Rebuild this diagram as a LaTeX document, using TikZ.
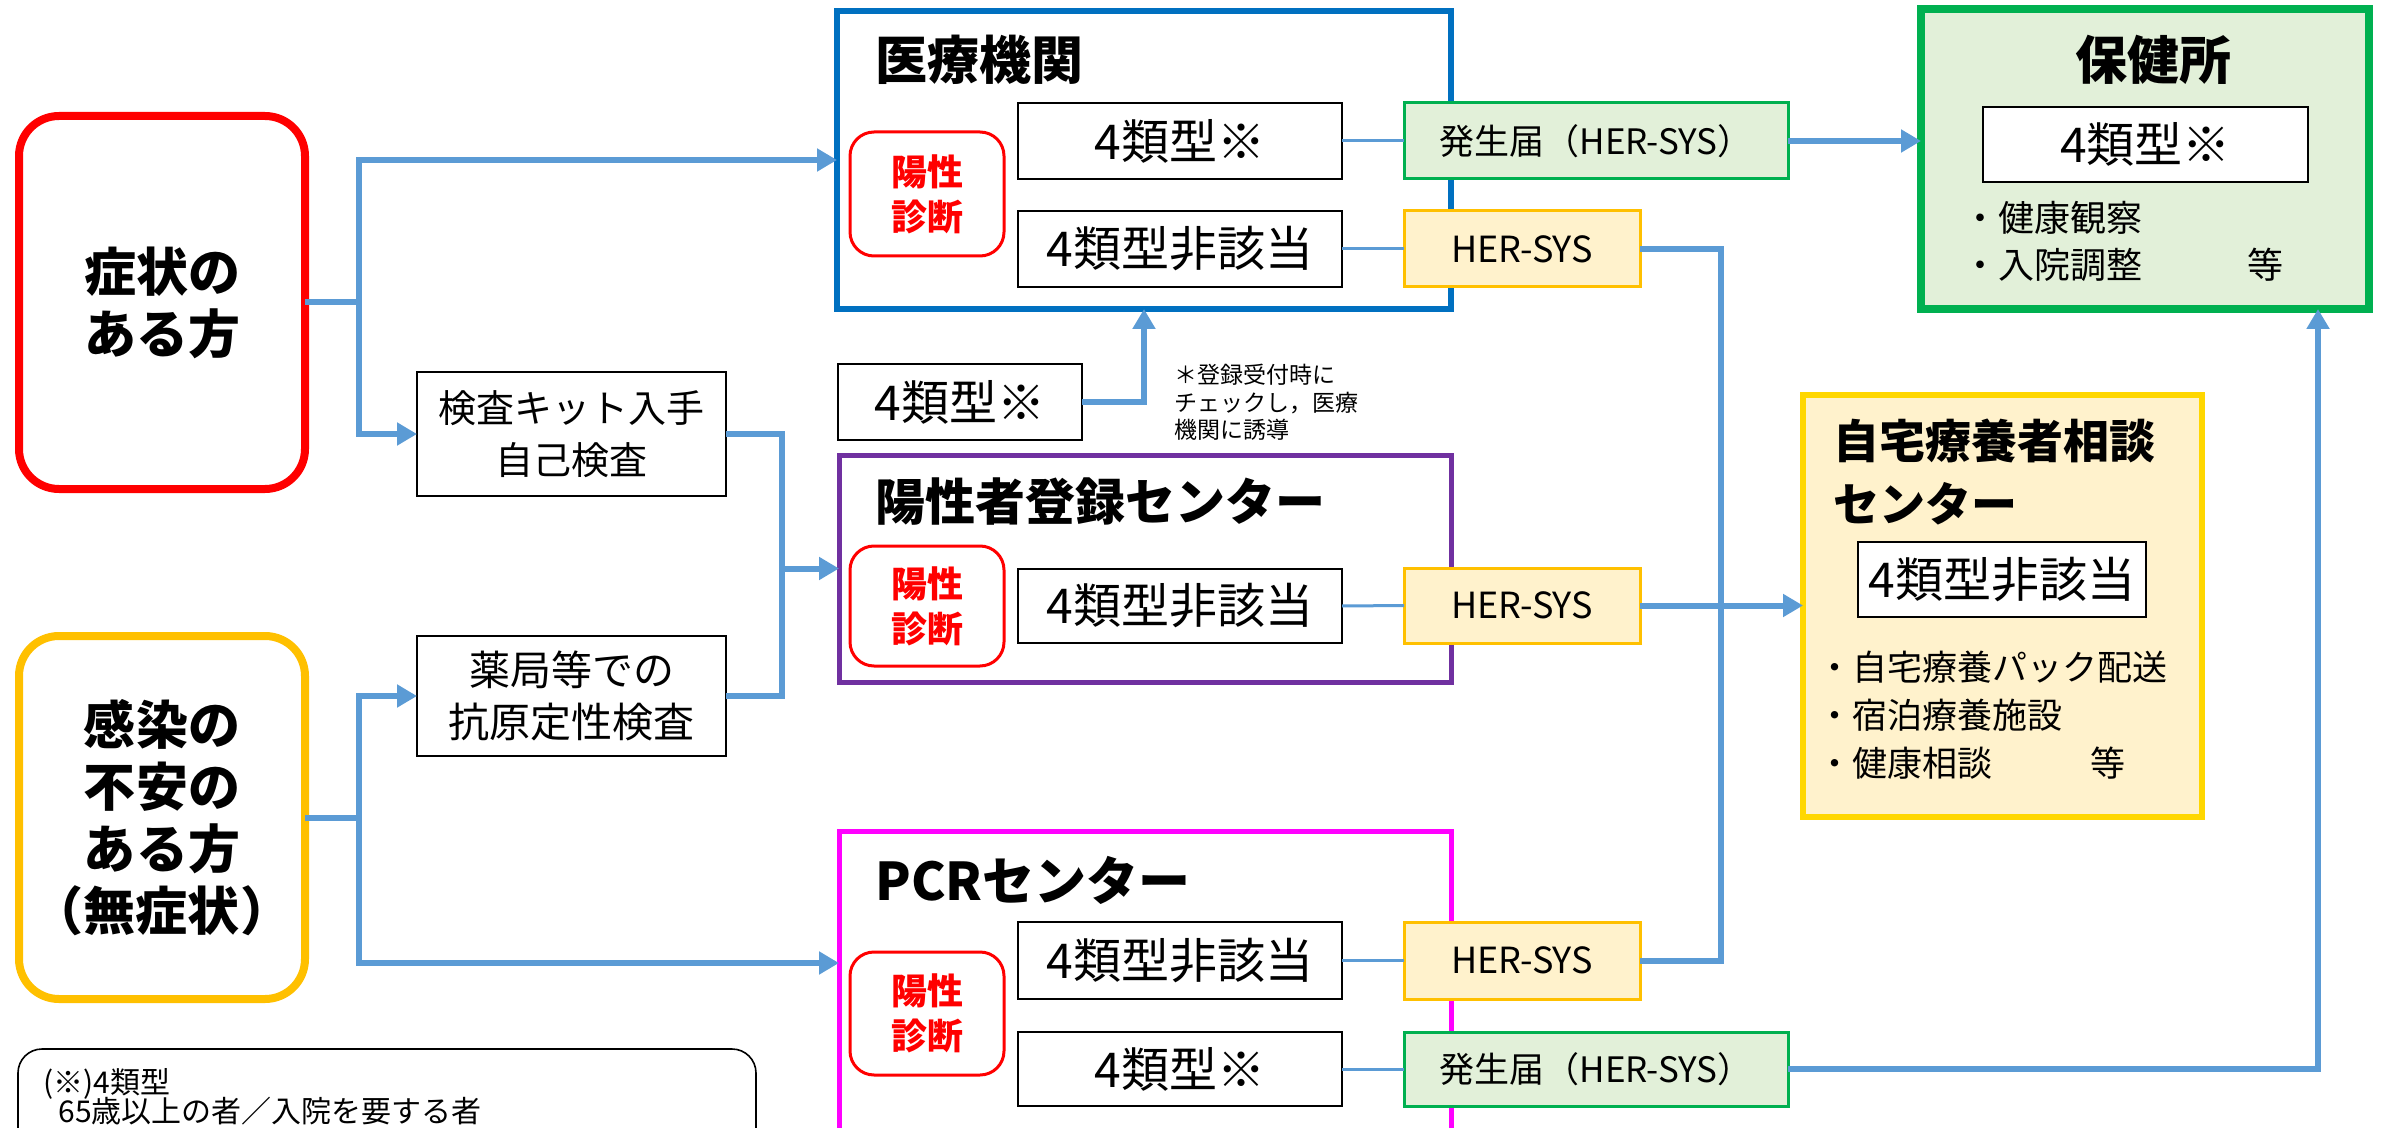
\documentclass[tikz,border=0pt]{standalone}
\usepackage{fontspec}
\setmainfont{Noto Sans CJK JP}
\usetikzlibrary{arrows.meta,calc}
\definecolor{cblue}{HTML}{5B9BD5}
\definecolor{ciryo}{HTML}{0070C0}
\definecolor{cpurple}{HTML}{7030A0}
\definecolor{cpink}{HTML}{FF00FF}
\definecolor{cred}{HTML}{FF0000}
\definecolor{corange}{HTML}{FFC000}
\definecolor{cgreen}{HTML}{00B050}
\definecolor{cgreenfill}{HTML}{E2F0D9}
\definecolor{cyelfill}{HTML}{FFF2CC}
\definecolor{cgold}{HTML}{FFD700}
\begin{document}
\begin{tikzpicture}[x=0.5pt,y=-0.5pt,
  boxat/.style n args={4}{at={({(#1+#3)/2},{(#2+#4)/2})}, minimum width={(#3-#1)*0.5pt}, minimum height={(#4-#2)*0.5pt}},
  fitbox/.style={inner sep=0pt, outer sep=0pt, align=center},
  personbox/.style={fitbox, draw, line width=4pt, rounded corners=20pt, fill=white, font=\bfseries\fontsize{26}{31}\selectfont},
  plainbox/.style={fitbox, draw=black, line width=1pt, fill=white, font=\fontsize{19}{26}\selectfont},
  contbox/.style={fitbox, draw, line width=3pt, fill=white},
  posbox/.style={fitbox, draw=cred, line width=1.5pt, rounded corners=12pt, fill=white, text=cred, font=\bfseries\fontsize{18}{22.5}\selectfont},
  typebox/.style={fitbox, draw=black, line width=1.3pt, fill=white, font=\fontsize{24}{28}\selectfont},
  herbox/.style={fitbox, draw=corange, line width=1.5pt, fill=cyelfill, font=\fontsize{18}{22}\selectfont},
  hasbox/.style={fitbox, draw=cgreen, line width=1.5pt, fill=cgreenfill, font=\fontsize{17.5}{22}\selectfont},
  titletext/.style={inner sep=0pt, anchor=west, font=\bfseries\fontsize{26}{31}\selectfont},
  bullettext/.style={inner sep=0pt, anchor=west, font=\fontsize{18}{22}\selectfont},
  link/.style={draw=cblue, line width=3pt},
  arrowlink/.style={link, -{Triangle[width=11pt,length=10pt]}},
  thinlink/.style={draw=cblue, line width=1.5pt},
]
\useasboundingbox (0,0) rectangle (2387,1128);
\clip (0,0) rectangle (2387,1128);
\fill[white] (0,0) rectangle (2387,1128);

% persons
\node[personbox, draw=cred, boxat={19}{116}{305}{489}] (sym) {症状の\\ある方};
\node[personbox, draw=corange, boxat={19}{636}{305}{999}] (anx) {感染の\\不安の\\ある方\\（無症状）};

% tests
\node[plainbox, boxat={417}{372}{726}{496}] (kit) {検査キット入手\\自己検査};
\node[plainbox, font=\fontsize{20.5}{26}\selectfont, boxat={417}{636}{726}{756}] (yak) {薬局等での\\抗原定性検査};

% containers
\node[contbox, draw=ciryo, boxat={837}{11}{1451}{309}] (iryo) {};
\node[contbox, draw=cpurple, line width=2.5pt, boxat={839}{455}{1451}{682}] (toroku) {};
\node[contbox, draw=cpink, line width=2.5pt, boxat={839}{831}{1451}{1150}] (pcr) {};
\node[titletext] (iryoT) at (875,60) {医療機関};
\node[titletext, font=\bfseries\fontsize{25}{30}\selectfont] (torokuT) at (875,502) {陽性者登録センター};
\node[titletext] (pcrT) at (875,880) {PCRセンター};

\node[posbox, boxat={850}{132}{1004}{256}] (iryoPos) {陽性\\診断};
\node[posbox, boxat={850}{546}{1004}{666}] (torokuPos) {陽性\\診断};
\node[posbox, boxat={850}{952}{1004}{1075}] (pcrPos) {陽性\\診断};

\node[typebox, boxat={1018}{103}{1342}{179}] (iryoA) {4類型※};
\node[typebox, boxat={1018}{211}{1342}{287}] (iryoB) {4類型非該当};
\node[typebox, boxat={1018}{569}{1342}{643}] (torokuB) {4類型非該当};
\node[typebox, boxat={1018}{922}{1342}{999}] (pcrB) {4類型非該当};
\node[typebox, boxat={1018}{1032}{1342}{1106}] (pcrA) {4類型※};
\node[typebox, boxat={838}{364}{1082}{440}] (extra) {4類型※};

\node[inner sep=0pt, anchor=west, align=left, font=\fontsize{11.5}{13.75}\selectfont] (note) at (1174,402.5) {＊登録受付時に\\チェックし，医療\\機関に誘導};

\node[hasbox, boxat={1404}{103}{1788}{179}] (hasseiTop) {発生届（HER-SYS）};
\node[herbox, boxat={1404}{211}{1640}{287}] (herTop) {HER-SYS};
\node[herbox, boxat={1404}{568}{1640}{643}] (herMid) {HER-SYS};
\node[herbox, boxat={1404}{922}{1640}{999}] (herBot) {HER-SYS};
\node[hasbox, boxat={1404}{1032}{1788}{1106}] (hasseiBot) {発生届（HER-SYS）};

% hokenjo
\node[contbox, draw=cgreen, fill=cgreenfill, line width=4pt, boxat={1921}{9}{2369}{309}] (hoken) {};
\node[titletext, anchor=center] (hokenT) at (2153,60) {保健所};
\node[typebox, boxat={1983}{107}{2308}{182}] (hokenA) {4類型※};
\node[bullettext] (hokenL1) at (1962,218) {・健康観察};
\node[bullettext] (hokenL2) at (1962,265) {・入院調整};
\node[bullettext, anchor=center] (hokenE) at (2265,265) {等};

% jitaku
\node[contbox, draw=cgold, fill=cyelfill, line width=3pt, boxat={1803}{395}{2202}{817}] (jitaku) {};
\node[titletext, align=left, font=\bfseries\fontsize{23}{31.5}\selectfont] (jitakuT) at (1833,472) {自宅療養者相談\\センター};
\node[typebox, boxat={1858}{542}{2146}{617}] (jitakuB) {4類型非該当};
\node[bullettext, font=\fontsize{17.5}{24}\selectfont] (jl1) at (1817,667) {・自宅療養パック配送};
\node[bullettext, font=\fontsize{17.5}{24}\selectfont] (jl2) at (1817,715) {・宿泊療養施設};
\node[bullettext, font=\fontsize{17.5}{24}\selectfont] (jl3) at (1817,763) {・健康相談};
\node[bullettext, anchor=center, font=\fontsize{17.5}{24}\selectfont] (jlE) at (2108,763) {等};

% legend
\node[fitbox, draw=black, line width=0.8pt, rounded corners=12pt, boxat={18}{1049}{756}{1220}] (legend) {};
\node[bullettext, font=\fontsize{15}{18}\selectfont] (lg1) at (43,1084) {(※)4類型};
\node[bullettext, font=\fontsize{15}{18}\selectfont] (lg2) at (58,1111) {65歳以上の者／入院を要する者};

% connectors
\coordinate (j1) at (359,302.5);
\draw[link] (sym.east) -- (j1);
\draw[arrowlink] (j1) |- (iryo.west);
\draw[arrowlink] (j1) |- (kit.west);

\coordinate (j2) at (782,568.5);
\draw[link] (kit.east) -| (j2);
\draw[link] (yak.east) -| (j2);
\draw[arrowlink] (j2) -- (toroku.west);

\coordinate (j3) at (359,817.5);
\coordinate (pcrIn) at (839,963);
\draw[link] (anx.east) -- (j3);
\draw[arrowlink] (j3) |- (yak.west);
\draw[arrowlink] (j3) |- (pcrIn);

\draw[arrowlink] (extra.east) -| (iryo.south);

\draw[thinlink] (iryoA.east) -- (hasseiTop.west);
\draw[thinlink] (iryoB.east) -- (herTop.west);
\draw[thinlink] (torokuB.east) -- (herMid.west);
\draw[thinlink] (pcrB.east) -- (herBot.west);
\draw[thinlink] (pcrA.east) -- (hasseiBot.west);

\draw[arrowlink] (hasseiTop.east) -- (hasseiTop.east -| hoken.west);
\coordinate (jv) at (1721,960.5);
\draw[link] (herTop.east) -| (jv) -- (herBot.east);
\draw[arrowlink] (herMid.east) -- (herMid.east -| jitaku.west);
\draw[arrowlink] (hasseiBot.east) -| ($(hoken.south)+(173,0)$);
\end{tikzpicture}
\end{document}
